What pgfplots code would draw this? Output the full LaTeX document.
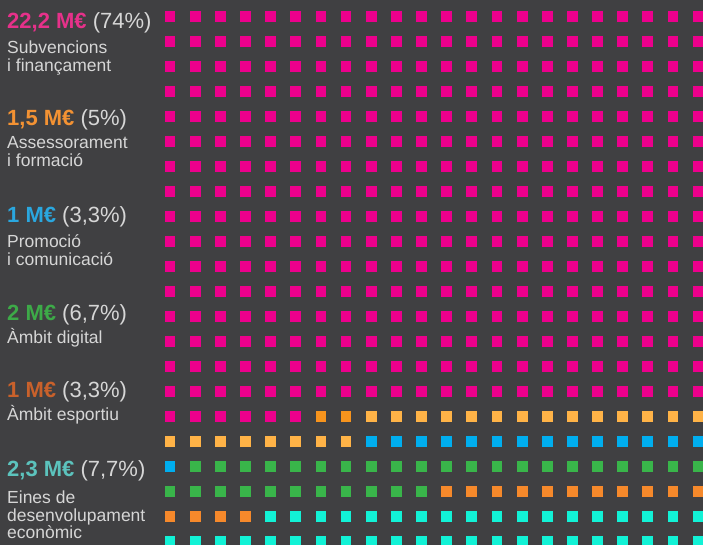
\documentclass[border=0pt]{standalone}
\usepackage{pgfplots}
\pgfplotsset{compat=1.18}
\usepackage{fontspec}
\setmainfont{Liberation Sans}
\definecolor{bg}{HTML}{404042}
\definecolor{cpink}{HTML}{EC008C}
\definecolor{cdorange}{HTML}{F7941D}
\definecolor{clorange}{HTML}{FFB347}
\definecolor{cblue}{HTML}{00AEEF}
\definecolor{cgreen}{HTML}{39B54A}
\definecolor{corange}{HTML}{F6892B}
\definecolor{ccyan}{HTML}{12F2D6}
\definecolor{tpink}{HTML}{E6318A}
\definecolor{torange}{HTML}{F39233}
\definecolor{tblue}{HTML}{2AA7DF}
\definecolor{tgreen}{HTML}{3DAA48}
\definecolor{tbrown}{HTML}{C9612B}
\definecolor{tteal}{HTML}{5CC3BD}
\definecolor{tgrey}{HTML}{D6D6D6}
\newcommand{\val}[3]{{\fontsize{22}{26}\selectfont\textbf{\color{#1}#2}\ {\color{tgrey}#3}}}
\newcommand{\lab}[1]{{\fontsize{17.5}{20}\selectfont\color{tgrey}#1}}
\pgfplotsset{wf/.style={only marks, mark=square*, mark size=4.9pt, color=#1, mark options={line width=0pt, fill=#1, draw=#1}}}
\begin{document}
\begin{tikzpicture}
\fill[bg] (0,0) rectangle (703pt,545pt);
\begin{axis}[at={(0,0)}, anchor=south west, width=703pt, height=545pt, scale only axis, hide axis,
  xmin=-6.7594, xmax=21.1928, ymin=-0.66, ymax=21.14, y dir=reverse]
% pink: rows 0-15 full, row 16 cols 0-5
\addplot[wf=cpink] coordinates {
(0,0) (1,0) (2,0) (3,0) (4,0) (5,0) (6,0) (7,0) (8,0) (9,0) (10,0) (11,0) (12,0) (13,0) (14,0) (15,0) (16,0) (17,0) (18,0) (19,0) (20,0) (21,0)
(0,1) (1,1) (2,1) (3,1) (4,1) (5,1) (6,1) (7,1) (8,1) (9,1) (10,1) (11,1) (12,1) (13,1) (14,1) (15,1) (16,1) (17,1) (18,1) (19,1) (20,1) (21,1)
(0,2) (1,2) (2,2) (3,2) (4,2) (5,2) (6,2) (7,2) (8,2) (9,2) (10,2) (11,2) (12,2) (13,2) (14,2) (15,2) (16,2) (17,2) (18,2) (19,2) (20,2) (21,2)
(0,3) (1,3) (2,3) (3,3) (4,3) (5,3) (6,3) (7,3) (8,3) (9,3) (10,3) (11,3) (12,3) (13,3) (14,3) (15,3) (16,3) (17,3) (18,3) (19,3) (20,3) (21,3)
(0,4) (1,4) (2,4) (3,4) (4,4) (5,4) (6,4) (7,4) (8,4) (9,4) (10,4) (11,4) (12,4) (13,4) (14,4) (15,4) (16,4) (17,4) (18,4) (19,4) (20,4) (21,4)
(0,5) (1,5) (2,5) (3,5) (4,5) (5,5) (6,5) (7,5) (8,5) (9,5) (10,5) (11,5) (12,5) (13,5) (14,5) (15,5) (16,5) (17,5) (18,5) (19,5) (20,5) (21,5)
(0,6) (1,6) (2,6) (3,6) (4,6) (5,6) (6,6) (7,6) (8,6) (9,6) (10,6) (11,6) (12,6) (13,6) (14,6) (15,6) (16,6) (17,6) (18,6) (19,6) (20,6) (21,6)
(0,7) (1,7) (2,7) (3,7) (4,7) (5,7) (6,7) (7,7) (8,7) (9,7) (10,7) (11,7) (12,7) (13,7) (14,7) (15,7) (16,7) (17,7) (18,7) (19,7) (20,7) (21,7)
(0,8) (1,8) (2,8) (3,8) (4,8) (5,8) (6,8) (7,8) (8,8) (9,8) (10,8) (11,8) (12,8) (13,8) (14,8) (15,8) (16,8) (17,8) (18,8) (19,8) (20,8) (21,8)
(0,9) (1,9) (2,9) (3,9) (4,9) (5,9) (6,9) (7,9) (8,9) (9,9) (10,9) (11,9) (12,9) (13,9) (14,9) (15,9) (16,9) (17,9) (18,9) (19,9) (20,9) (21,9)
(0,10) (1,10) (2,10) (3,10) (4,10) (5,10) (6,10) (7,10) (8,10) (9,10) (10,10) (11,10) (12,10) (13,10) (14,10) (15,10) (16,10) (17,10) (18,10) (19,10) (20,10) (21,10)
(0,11) (1,11) (2,11) (3,11) (4,11) (5,11) (6,11) (7,11) (8,11) (9,11) (10,11) (11,11) (12,11) (13,11) (14,11) (15,11) (16,11) (17,11) (18,11) (19,11) (20,11) (21,11)
(0,12) (1,12) (2,12) (3,12) (4,12) (5,12) (6,12) (7,12) (8,12) (9,12) (10,12) (11,12) (12,12) (13,12) (14,12) (15,12) (16,12) (17,12) (18,12) (19,12) (20,12) (21,12)
(0,13) (1,13) (2,13) (3,13) (4,13) (5,13) (6,13) (7,13) (8,13) (9,13) (10,13) (11,13) (12,13) (13,13) (14,13) (15,13) (16,13) (17,13) (18,13) (19,13) (20,13) (21,13)
(0,14) (1,14) (2,14) (3,14) (4,14) (5,14) (6,14) (7,14) (8,14) (9,14) (10,14) (11,14) (12,14) (13,14) (14,14) (15,14) (16,14) (17,14) (18,14) (19,14) (20,14) (21,14)
(0,15) (1,15) (2,15) (3,15) (4,15) (5,15) (6,15) (7,15) (8,15) (9,15) (10,15) (11,15) (12,15) (13,15) (14,15) (15,15) (16,15) (17,15) (18,15) (19,15) (20,15) (21,15)
(0,16) (1,16) (2,16) (3,16) (4,16) (5,16)
};
% dark orange
\addplot[wf=cdorange] coordinates {(6,16) (7,16)};
% light orange
\addplot[wf=clorange] coordinates {
(8,16) (9,16) (10,16) (11,16) (12,16) (13,16) (14,16) (15,16) (16,16) (17,16) (18,16) (19,16) (20,16) (21,16)
(0,17) (1,17) (2,17) (3,17) (4,17) (5,17) (6,17) (7,17)
};
% blue
\addplot[wf=cblue] coordinates {
(8,17) (9,17) (10,17) (11,17) (12,17) (13,17) (14,17) (15,17) (16,17) (17,17) (18,17) (19,17) (20,17) (21,17)
(0,18)
};
% green
\addplot[wf=cgreen] coordinates {
(1,18) (2,18) (3,18) (4,18) (5,18) (6,18) (7,18) (8,18) (9,18) (10,18) (11,18) (12,18) (13,18) (14,18) (15,18) (16,18) (17,18) (18,18) (19,18) (20,18) (21,18)
(0,19) (1,19) (2,19) (3,19) (4,19) (5,19) (6,19) (7,19) (8,19) (9,19) (10,19)
};
% orange
\addplot[wf=corange] coordinates {
(11,19) (12,19) (13,19) (14,19) (15,19) (16,19) (17,19) (18,19) (19,19) (20,19) (21,19)
(0,20) (1,20) (2,20) (3,20)
};
% cyan
\addplot[wf=ccyan] coordinates {
(4,20) (5,20) (6,20) (7,20) (8,20) (9,20) (10,20) (11,20) (12,20) (13,20) (14,20) (15,20) (16,20) (17,20) (18,20) (19,20) (20,20) (21,20)
(0,21) (1,21) (2,21) (3,21) (4,21) (5,21) (6,21) (7,21) (8,21) (9,21) (10,21) (11,21) (12,21) (13,21) (14,21) (15,21) (16,21) (17,21) (18,21) (19,21) (20,21) (21,21)
};
\end{axis}
\begin{scope}[every node/.style={anchor=base west, inner sep=0pt}]
\node at (7pt,516pt) {\val{tpink}{22,2 M€}{(74\%)}};
\node at (7pt,491pt) {\lab{Subvencions}};
\node at (7pt,473pt) {\lab{i finançament}};
\node at (7pt,419pt) {\val{torange}{1,5 M€}{(5\%)}};
\node at (7pt,396pt) {\lab{Assessorament}};
\node at (7pt,378pt) {\lab{i formació}};
\node at (7pt,322pt) {\val{tblue}{1 M€}{(3,3\%)}};
\node at (7pt,297pt) {\lab{Promoció}};
\node at (7pt,279pt) {\lab{i comunicació}};
\node at (7pt,224pt) {\val{tgreen}{2 M€}{(6,7\%)}};
\node at (7pt,201pt) {\lab{Àmbit digital}};
\node at (7pt,147pt) {\val{tbrown}{1 M€}{(3,3\%)}};
\node at (7pt,124pt) {\lab{Àmbit esportiu}};
\node at (7pt,68pt) {\val{tteal}{2,3 M€}{(7,7\%)}};
\node at (7pt,41pt) {\lab{Eines de}};
\node at (7pt,23pt) {\lab{desenvolupament}};
\node at (7pt,6pt) {\lab{econòmic}};
\end{scope}
\pgfresetboundingbox
\path[use as bounding box] (0,0) rectangle (703pt,545pt);
\end{tikzpicture}
\end{document}
